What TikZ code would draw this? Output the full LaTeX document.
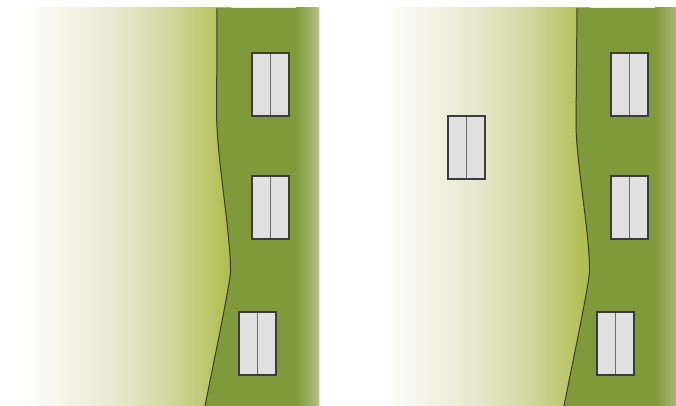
\documentclass[tikz,border=0pt]{standalone}
\definecolor{lightgreen}{HTML}{AFBC4A}
\definecolor{gA}{HTML}{F2F3E5}
\definecolor{gB}{HTML}{E3E7C8}
\definecolor{gC}{HTML}{CDD495}
\definecolor{darkgreen}{HTML}{7F9A3A}
\definecolor{fadegreen}{HTML}{B2C185}
\definecolor{wallline}{HTML}{3A3A3A}
\definecolor{winfill}{HTML}{E0E0E0}
\definecolor{winframe}{HTML}{3C3C3C}
\definecolor{windiv}{HTML}{6A6A6A}
\pgfdeclarehorizontalshading{wallgrad}{100bp}{color(0bp)=(white); color(25bp)=(white);
  color(37.5bp)=(gA); color(50bp)=(gB); color(62.5bp)=(gC); color(75bp)=(lightgreen); color(100bp)=(lightgreen)}
\tikzset{
  boundary/.style={draw=wallline, line width=1pt},
  winbox/.style={fill=winfill, draw=winframe, line width=1.5pt},
  windivider/.style={draw=windiv, line width=1.9pt}
}
\begin{document}
\begin{tikzpicture}[x=1pt,y=-1pt]
\useasboundingbox (0,0) rectangle (676,406);
\fill[white] (0,0) rectangle (676,406);
% ---------- left panel ----------
\shade[shading=wallgrad] (20,8) rectangle (231,406);
\fill[darkgreen] (217,8) -- (216.6,115) .. controls (217,160) and (231,235) .. (230.5,272)
  .. controls (229,290) and (212,370) .. (205,406) -- (319,406) -- (319,8) -- cycle;
\shade[left color=darkgreen, right color=fadegreen] (296,8) rectangle (319,406);
\draw[boundary] (217,8) -- (216.6,115) .. controls (217,160) and (231,235) .. (230.5,272)
  .. controls (229,290) and (212,370) .. (205,406);
% windows
\foreach \x/\y in {252/53, 252/176, 239/312}{
  \draw[winbox] (\x,\y) rectangle ++(37,63);
  \draw[windivider] (\x+18.5,\y+0.7) -- (\x+18.5,\y+62.3);
}
% ---------- right panel ----------
\shade[shading=wallgrad] (377,8) rectangle (590,406);
\fill[darkgreen] (577,8) -- (576,125) .. controls (576.5,165) and (590,235) .. (589.5,272)
  .. controls (588,290) and (571,370) .. (564,406) -- (676,406) -- (676,8) -- cycle;
\shade[left color=darkgreen, right color=fadegreen!80!darkgreen] (655,8) rectangle (676,406);
\draw[boundary] (577,8) -- (576,125) .. controls (576.5,165) and (590,235) .. (589.5,272)
  .. controls (588,290) and (571,370) .. (564,406);
\foreach \x/\y in {611/53, 611/176, 597/312, 448/116}{
  \draw[winbox] (\x,\y) rectangle ++(37,63);
  \draw[windivider] (\x+18.5,\y+0.7) -- (\x+18.5,\y+62.3);
}
\end{tikzpicture}
\end{document}
